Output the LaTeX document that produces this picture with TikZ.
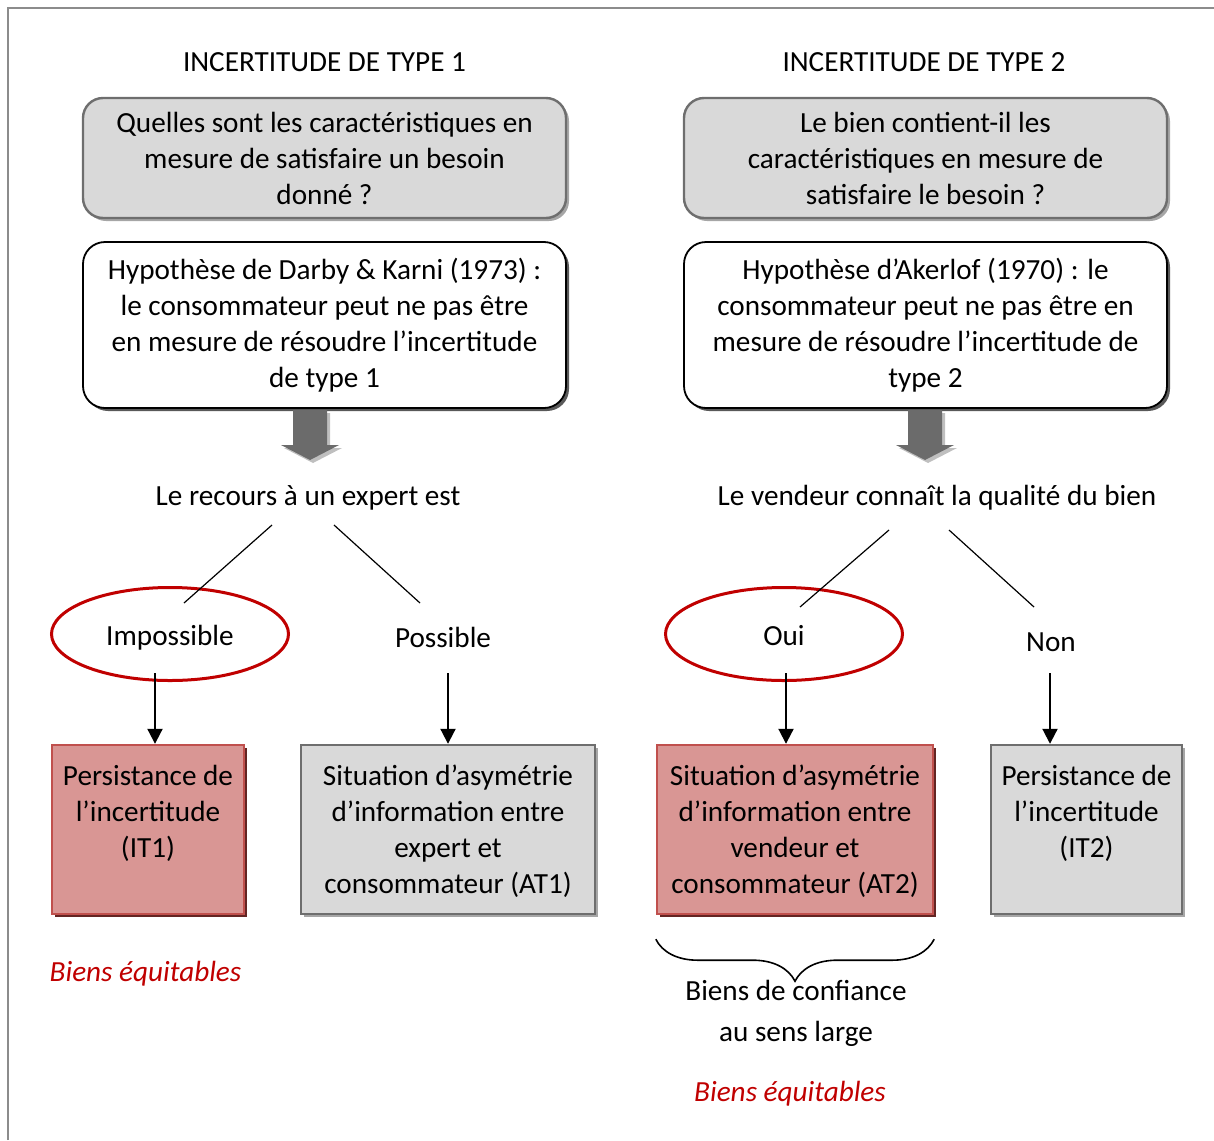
\documentclass[tikz,border=0pt]{standalone}
\usepackage{fontspec}
\setmainfont{Carlito}
\usepackage{tikz}
\usetikzlibrary{arrows.meta,shapes.geometric,shadows,decorations.pathreplacing,positioning,calc}
\definecolor{qfill}{HTML}{D9D9D9}
\definecolor{qline}{HTML}{6E6E6E}
\definecolor{qshade}{HTML}{A6A6A6}
\definecolor{rfill}{HTML}{D99694}
\definecolor{rline}{HTML}{C0504D}
\definecolor{rshade}{HTML}{632523}
\definecolor{ered}{HTML}{C00000}
\definecolor{framegray}{HTML}{8C8C8C}
\definecolor{barrow}{HTML}{6B6B6B}
\definecolor{ashade}{HTML}{BFBFBF}
\tikzset{
  question/.style={draw=qline, line width=1.2pt, fill=qfill, rounded corners=10pt, align=center,
    minimum width=241.5pt, minimum height=60pt,
    drop shadow={shadow xshift=1.5pt, shadow yshift=-1.5pt, fill=qshade, opacity=1}},
  hypo/.style={draw=black, line width=0.9pt, fill=white, rounded corners=11pt, align=center,
    minimum width=241.5pt, minimum height=83pt,
    drop shadow={shadow xshift=1.5pt, shadow yshift=-1.5pt, fill=black!65, opacity=1}},
  outgray/.style={draw=qline, line width=1.2pt, fill=qfill, minimum height=84.5pt,
    drop shadow={shadow xshift=1.5pt, shadow yshift=-1.5pt, fill=qshade, opacity=1}},
  outred/.style={draw=rline, line width=1.2pt, fill=rfill, minimum height=84.5pt,
    drop shadow={shadow xshift=1.5pt, shadow yshift=-1.5pt, fill=rshade, opacity=1}},
  boxtext/.style={align=center},
  choice/.style={ellipse, draw=ered, line width=1.5pt, minimum width=118.5pt, minimum height=46.5pt,
    inner sep=0pt, text height=11pt, text depth=0pt},
  branch/.style={line width=0.6pt},
  down/.style={-{Triangle[length=7.5pt,width=7.5pt]}, line width=1pt},
  fair/.style={font=\itshape, text=ered},
}
\newcommand{\bigarrow}[2]{%
  \begin{scope}[shift={(#1,#2)}]
    \fill[ashade] (-14,3) -- (20,3) -- (20,38) -- (32,38) -- (3,53) -- (-26,38) -- (-14,38) -- cycle;
    \fill[barrow] (-17,0) -- (17,0) -- (17,35) -- (29,35) -- (0,50) -- (-29,35) -- (-17,35) -- cycle;
  \end{scope}}

\begin{document}
\fontsize{14.6}{18}\selectfont
\begin{tikzpicture}[x=0.5pt,y=-0.5pt]
  \useasboundingbox (0,0) rectangle (1214,1140);
  \draw[framegray, line width=1pt] (8,1140) -- (8,8) -- (1214,8);

  % type 1
  \node (t1) at (324.5,62) {INCERTITUDE DE TYPE 1};
  \node[question] (q1) at (324.5,158) {Quelles sont les caractéristiques en\\mesure de satisfaire un besoin\\donné ?};
  \node[hypo] (h1) at (324.5,325) {Hypothèse de Darby \& Karni (1973) :\\le consommateur peut ne pas être\\en mesure de résoudre l’incertitude\\de type 1};
  \bigarrow{310}{410}
  \node (rec) at (308,498) {Le recours à un expert est};
  \node[choice] (imp) at (170,634) {Impossible};
  \node (pos) at (443,637) {Possible};

  % type 2
  \node (t2) at (924,62) {INCERTITUDE DE TYPE 2};
  \node[question] (q2) at (925.5,158) {Le bien contient-il les\\caractéristiques en mesure de\\satisfaire le besoin ?};
  \node[hypo] (h2) at (925.5,325) {Hypothèse d’Akerlof (1970) : le\\consommateur peut ne pas être en\\mesure de résoudre l’incertitude de\\type 2};
  \bigarrow{925}{410}
  \node (vend) at (937,498) {Le vendeur connaît la qualité du bien};
  \node[choice] (oui) at (784,634) {Oui};
  \node (non) at (1051,642) {Non};

  % branches
  \coordinate (r1) at (272,525); \coordinate (r2) at (184,603);
  \coordinate (r3) at (334,525); \coordinate (r4) at (420,603);
  \coordinate (v1) at (889,530); \coordinate (v2) at (800,607);
  \coordinate (v3) at (949,530); \coordinate (v4) at (1034,607);
  \foreach \a/\b in {r1/r2, r3/r4, v1/v2, v3/v4}
    \draw[branch] (\a) -- (\b);

  % outcomes
  \node[outred, minimum width=96pt] (it1) at (148,829.5) {};
  \node[outgray, minimum width=147pt] (at1) at (448,829.5) {};
  \node[outred, minimum width=138pt] (at2) at (795,829.5) {};
  \node[outgray, minimum width=95.5pt] (it2) at (1086.5,829.5) {};
  \node[boxtext, below=5.5pt of it1.north] (it1t) {Persistance de\\l’incertitude\\(IT1)};
  \node[boxtext, below=5.5pt of at1.north] (at1t) {Situation d’asymétrie\\d’information entre\\expert et\\consommateur (AT1)};
  \node[boxtext, below=5.5pt of at2.north] (at2t) {Situation d’asymétrie\\d’information entre\\vendeur et\\consommateur (AT2)};
  \node[boxtext, below=5.5pt of it2.north] (it2t) {Persistance de\\l’incertitude\\(IT2)};

  \coordinate (a1) at (155,673); \coordinate (a2) at (448,673);
  \coordinate (a3) at (786,673); \coordinate (a4) at (1050,673);
  \draw[down] (a1) -- (a1 |- it1.north);
  \draw[down] (a2) -- (a2 |- at1.north);
  \draw[down] (a3) -- (a3 |- at2.north);
  \draw[down] (a4) -- (a4 |- it2.north);

  % notes
  \node[fair] (fair1) at (145.5,974) {Biens équitables};
  \draw[decorate, decoration={brace, mirror, amplitude=21pt}, line width=0.8pt]
    ($(at2.south west)+(0,24)$) -- ($(at2.south east)+(0,24)$);
  \node[boxtext] (conf) at (796,1013) {Biens de confiance\\[2.5pt]au sens large};
  \node[fair] (fair2) at (790,1094) {Biens équitables};
\end{tikzpicture}
\end{document}
